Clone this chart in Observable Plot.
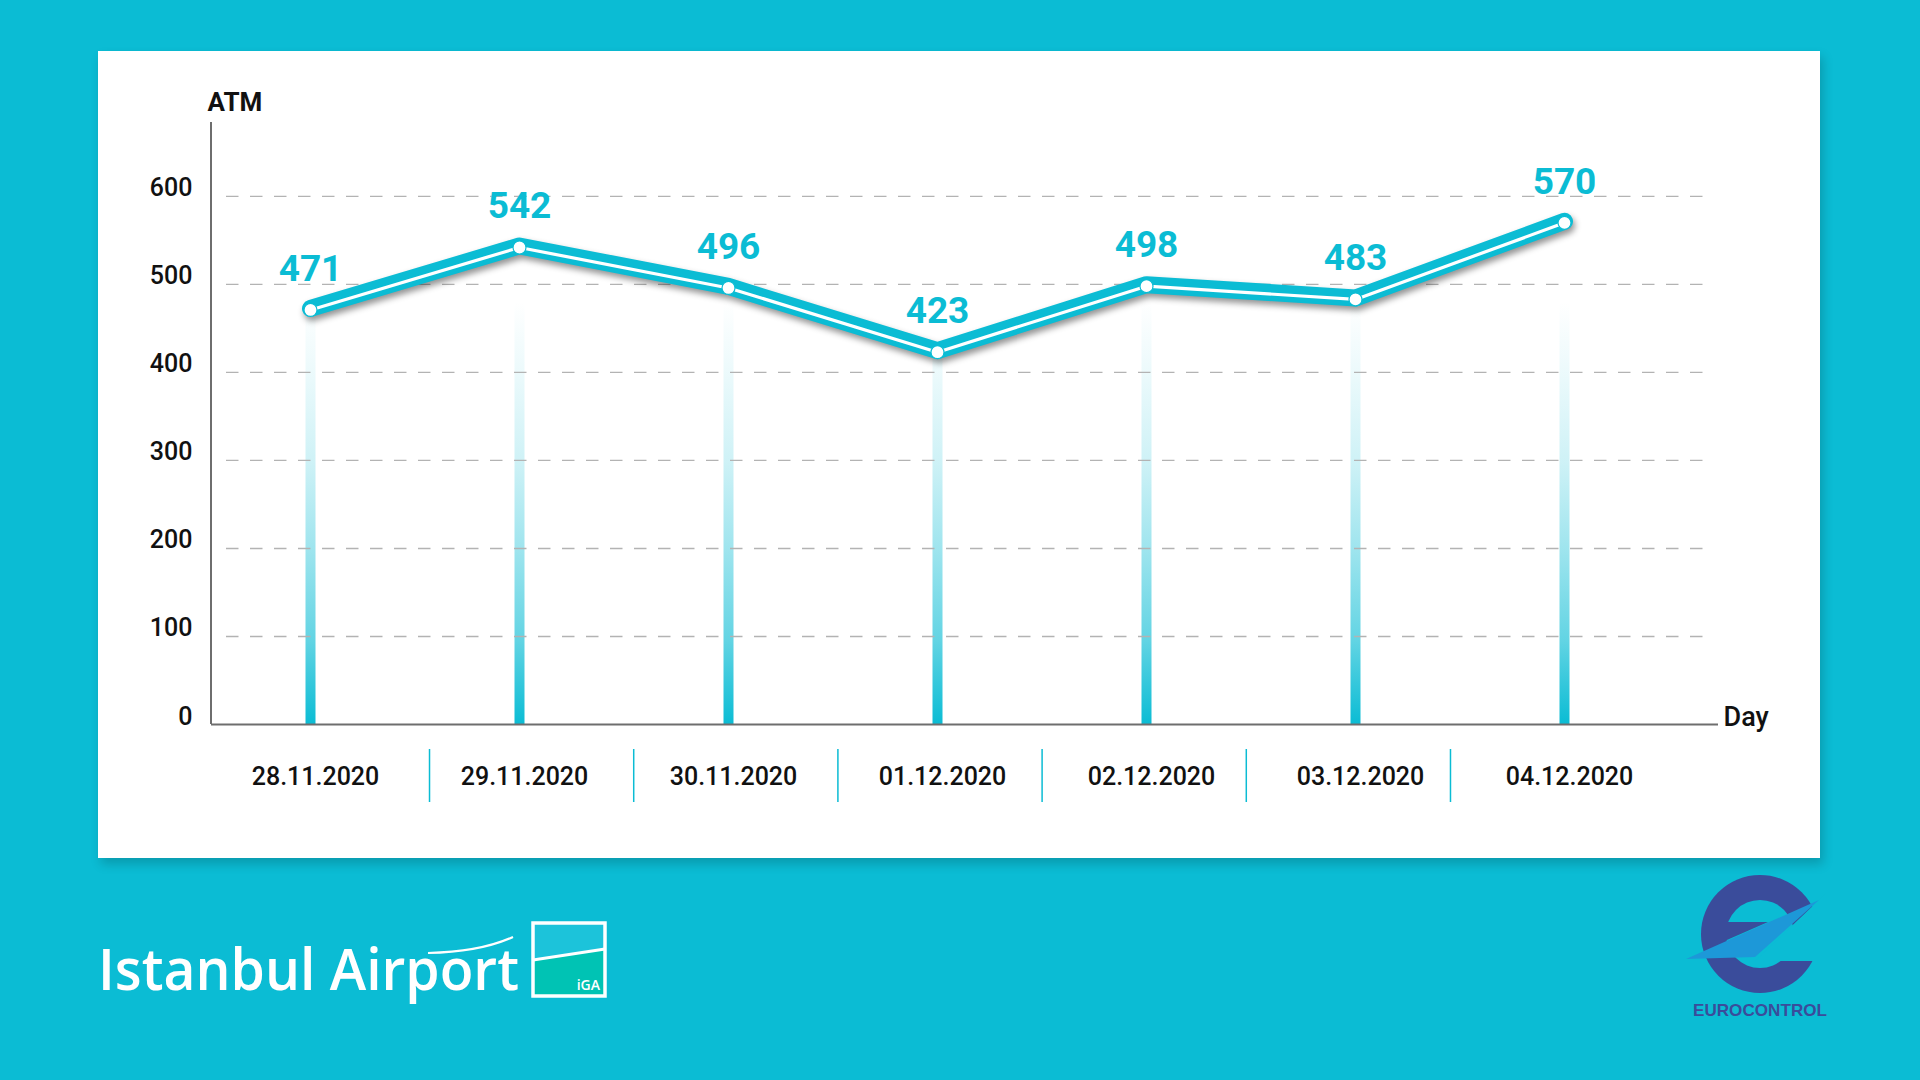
<!DOCTYPE html>
<html>
<head>
<meta charset="utf-8">
<script src="https://cdn.jsdelivr.net/npm/d3@7"></script>
<script src="https://cdn.jsdelivr.net/npm/@observablehq/plot@0.6"></script>
<style>
  html, body { margin: 0; padding: 0; width: 1920px; height: 1080px; overflow: hidden; background: #0bbcd4; }
  #panel { position: absolute; left: 98px; top: 51px; width: 1722px; height: 807px; background: #ffffff; box-shadow: 3px 6px 10px rgba(0,0,0,0.18); }
  #chart { position: absolute; left: 0; top: 0; width: 1920px; height: 1080px; }
  #logos { position: absolute; left: 0; top: 0; }
  #defs { position: absolute; width: 0; height: 0; }
</style>
</head>
<body>
<svg id="defs" width="0" height="0">
  <defs>
    <linearGradient id="dropGrad" gradientUnits="userSpaceOnUse" x1="0" x2="0" y1="300" y2="724">
      <stop offset="0" stop-color="#0bbcd4" stop-opacity="0"></stop>
      <stop offset="0.17" stop-color="#0bbcd4" stop-opacity="0.08"></stop>
      <stop offset="0.38" stop-color="#0bbcd4" stop-opacity="0.2"></stop>
      <stop offset="0.59" stop-color="#0bbcd4" stop-opacity="0.4"></stop>
      <stop offset="0.8" stop-color="#0bbcd4" stop-opacity="0.64"></stop>
      <stop offset="1" stop-color="#0bbcd4" stop-opacity="1"></stop>
    </linearGradient>
  </defs>
</svg>
<div id="panel"></div>
<div id="chart"></div>
<svg id="logos" width="1920" height="1080">
  <!-- Istanbul Airport -->
  <text x="98" y="990" font-family="'Open Sans', sans-serif" font-weight="600" font-size="58" fill="#ffffff" textLength="421" lengthAdjust="spacingAndGlyphs">Istanbul Airport</text>
  <path d="M 428 953 Q 480 952 513 937" stroke="#ffffff" stroke-width="2.2" fill="none"></path>
  <polygon points="533.5,923.5 604.5,923.5 604.5,948 533.5,959" fill="#1cc3da"></polygon>
  <polygon points="533.5,961 604.5,950 604.5,995.5 533.5,995.5" fill="#00c3b4"></polygon>
  <line x1="533" y1="960" x2="605" y2="949" stroke="#ffffff" stroke-width="3"></line>
  <rect x="533" y="923" width="72" height="73" fill="none" stroke="#ffffff" stroke-width="3.5"></rect>
  <text x="600" y="990" text-anchor="end" font-family="'Open Sans', sans-serif" font-weight="600" font-size="14" fill="#ffffff">iGA</text>
  <!-- EUROCONTROL -->
  <circle cx="1760" cy="934" r="59" fill="#3a4c9b"></circle>
  <circle cx="1760" cy="934" r="34" fill="#0bbcd4"></circle>
  <polygon points="1755,961 1826,961 1826,893 1819,900" fill="#0bbcd4"></polygon>
  <polygon points="1720,922 1768,922 1720,943" fill="#3a4c9b"></polygon>
  <polygon points="1686,959 1819,900 1755,957" fill="#1d98d8"></polygon>
  <text x="1760" y="1016" text-anchor="middle" font-family="'Liberation Sans', Arial, sans-serif" font-weight="700" font-size="17" fill="#3a4c9b" textLength="134" lengthAdjust="spacingAndGlyphs">EUROCONTROL</text>
</svg>
<script>
// ---- data ----
const days = ["28.11.2020", "29.11.2020", "30.11.2020", "01.12.2020", "02.12.2020", "03.12.2020", "04.12.2020"];
const atm = [471, 542, 496, 423, 498, 483, 570];
const yTicks = [0, 100, 200, 300, 400, 500, 600];
const yMax = 684;
const yLabel = "ATM";
const xLabel = "Day";

const data = days.map((d, i) => ({ day: d, atm: atm[i] }));

const TEAL = "#0bbcd4";
const FONT = "Roboto, 'Open Sans', sans-serif";

// vertical axis line along the left edge of the frame
const yAxisLine = (index, scales, values, dim) => {
  const g = d3.create("svg:g");
  g.append("line")
    .attr("x1", dim.marginLeft).attr("x2", dim.marginLeft)
    .attr("y1", dim.marginTop).attr("y2", dim.height - dim.marginBottom)
    .attr("stroke", "#6e6e6e").attr("stroke-width", 2);
  return g.node();
};

// separators between the date labels (slightly tighter spacing than the points)
const separators = (index, scales, values, dim) => {
  const g = d3.create("svg:g");
  const base = dim.height - dim.marginBottom;
  const cx = (scales.x(days[0]) + scales.x(days[days.length - 1])) / 2;
  for (let i = 1; i < days.length; i++) {
    const mid = (scales.x(days[i - 1]) + scales.x(days[i])) / 2;
    const xm = cx + (mid - cx) * 0.977 + 3;
    g.append("line")
      .attr("x1", xm).attr("x2", xm)
      .attr("y1", base + 25).attr("y2", base + 78)
      .attr("stroke", TEAL).attr("stroke-width", 1.5);
  }
  return g.node();
};

const chart = Plot.plot({
  width: 1920,
  height: 1080,
  marginLeft: 211,
  marginRight: 202,
  marginTop: 122,
  marginBottom: 356,
  style: { background: "transparent", fontFamily: FONT, overflow: "visible" },
  x: { type: "point", domain: days, range: [310, 1564], padding: 0, axis: null },
  y: { domain: [0, yMax] },
  marks: [
    // gradient drop lines
    Plot.ruleX(data, { x: "day", y1: 0, y2: "atm", stroke: "url(#dropGrad)", strokeWidth: 10 }),
    // dashed gridlines
    Plot.ruleY(yTicks.filter(d => d > 0), { stroke: "#b3b3b3", strokeWidth: 1.3, strokeDasharray: "12.5,11.5", insetLeft: 15, insetRight: 4 }),
    // axes lines
    Plot.ruleY([0], { stroke: "#6e6e6e", strokeWidth: 2 }),
    yAxisLine,
    // main line
    Plot.line(data, { x: "day", y: "atm", stroke: TEAL, strokeWidth: 17, strokeLinejoin: "round", strokeLinecap: "round", dy: -1.5, imageFilter: "drop-shadow(2px 4px 3px rgba(0,0,0,0.42))" }),
    Plot.line(data, { x: "day", y: "atm", stroke: "#ffffff", strokeWidth: 3.2, strokeLinejoin: "round" }),
    Plot.dot(data, { x: "day", y: "atm", r: 6.5, fill: "#ffffff", stroke: TEAL, strokeWidth: 1.2 }),
    // value labels
    Plot.text(data, { x: "day", y: "atm", text: d => String(d.atm), dy: -41, fill: TEAL, fontSize: 37, fontWeight: 700, fontFamily: FONT }),
    // y tick labels
    Plot.axisY(yTicks, { tickSize: 0, tickPadding: 19, fontSize: 25, fontWeight: 500, fill: "#111111", dy: -8, label: null }),
    // x tick labels
    Plot.text(days, { x: d => d, text: d => d, frameAnchor: "bottom", dy: 60, dx: 5, fontSize: 25, fontWeight: 500, fill: "#111111" }),
    separators,
    // axis titles
    Plot.text([yLabel], { text: d => d, frameAnchor: "top-left", textAnchor: "start", dx: -4, dy: -30, fontSize: 26, fontWeight: 700, fill: "#111111" }),
    Plot.text([xLabel], { text: d => d, frameAnchor: "bottom-right", textAnchor: "start", dx: 5, dy: 1, fontSize: 27, fontWeight: 500, fill: "#111111" })
  ]
});

document.getElementById("chart").appendChild(chart);

// tie the drop-line gradient to the y scale
const ys = chart.scale("y");
const grad = document.getElementById("dropGrad");
grad.setAttribute("y1", ys.apply(480));
grad.setAttribute("y2", ys.apply(0));
</script>
</body>
</html>
